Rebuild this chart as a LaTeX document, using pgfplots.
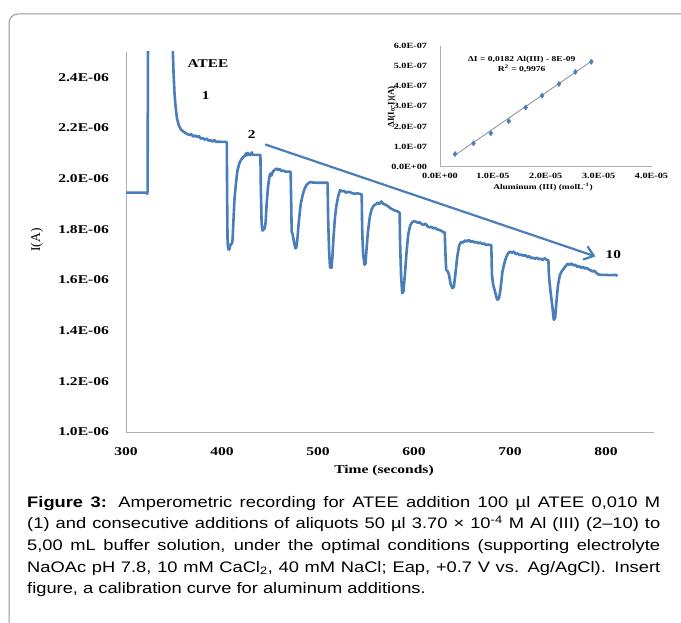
\documentclass[border=0pt]{standalone}
\usepackage{fontspec}
\setmainfont{Liberation Serif}
\newfontfamily\capfont{Liberation Sans}
\usepackage{pgfplots}
\pgfplotsset{compat=1.18}
\usetikzlibrary{arrows.meta}
\definecolor{trace}{RGB}{74,126,187}
\definecolor{axgray}{RGB}{175,175,175}
\definecolor{bordergray}{RGB}{150,150,150}
\definecolor{trendgray}{RGB}{140,140,140}
\begin{document}
\begin{tikzpicture}[x=1bp,y=1bp]
\useasboundingbox (0,0) rectangle (681,623);
\fill[white] (0,0) rectangle (681,623);
\draw[bordergray, line width=1bp, rounded corners=9bp] (681,609) -- (9,609) -- (9,0);

\begin{axis}[
  at={(126bp,191bp)}, anchor=south west,
  scale only axis, width=528bp, height=380bp,
  xmin=300, xmax=850, ymin=1.0, ymax=2.5,
  axis x line=bottom, axis y line=left,
  axis line style={axgray, line width=0.9bp, -},
  xtick={300,400,500,600,700,800},
  xticklabels={300,400,500,600,700,800},
  ytick={1.0,1.2,1.4,1.6,1.8,2.0,2.2,2.4},
  yticklabels={1.0E-06,1.2E-06,1.4E-06,1.6E-06,1.8E-06,2.0E-06,2.2E-06,2.4E-06},
  major tick length=0pt,
  tick label style={font=\fontsize{12}{14}\selectfont\bfseries, xscale=1.3, inner sep=0pt},
  xticklabel style={anchor=north, yshift=-15bp},
  yticklabel style={anchor=east, xshift=-13bp},
  clip=true,
]
\addplot[trace, line width=2.6bp, line join=round] coordinates {
(300,1.945) (310,1.945) (320,1.945) (321.5,1.945) (322,1.94) (322.5,1.95) (323,2.7)
(348,2.7) (348.8,2.5) (349.5,2.42) (350.5,2.34) (351.5,2.29) (353,2.24) (355,2.21) (357,2.195)
(360,2.185) (363,2.178) (366,2.172) (368,2.176) (370,2.166) (372,2.17) (374,2.165) (376,2.168)
(378,2.158) (380,2.16) (382,2.154) (384,2.158) (386,2.15) (388,2.152) (390,2.146) (392,2.152)
(394,2.145) (397,2.146) (400,2.145) (404.5,2.145)
(405,2.14) (405.4,1.9) (405.8,1.75) (406.5,1.722) (407.5,1.72) (408.5,1.735) (409.5,1.742)
(410.5,1.745) (411,1.76) (412,1.84) (413,1.92) (414.5,1.98) (416,2.03) (418,2.06) (420,2.075)
(422,2.085) (424,2.09) (425,2.1) (426,2.092) (427,2.102) (428,2.093) (430,2.095) (431,2.104)
(432,2.094) (435,2.094) (438,2.094) (440,2.094)
(440.5,1.95) (441.3,1.82) (442.2,1.795) (443.5,1.8) (444.5,1.805) (445.5,1.83) (446.5,1.9)
(448,1.97) (449.5,2.01) (450.5,2.02) (451.5,2.012) (453,2.028) (455,2.035) (457,2.04)
(458.5,2.034) (460,2.038) (462,2.03) (464,2.032) (466,2.028) (468,2.028) (471.5,2.027)
(472,1.92) (472.6,1.79) (473.5,1.782) (475,1.75) (476.5,1.725) (477.5,1.73) (478.5,1.76)
(480,1.83) (482,1.9) (484,1.935) (486,1.96) (488,1.975) (490,1.982) (492,1.987) (494,1.985)
(498,1.984) (502,1.984) (506,1.984) (510,1.984)
(510.5,1.85) (511.5,1.72) (512.5,1.65) (514,1.648) (515,1.69) (516,1.76) (517.5,1.84)
(519,1.89) (521,1.93) (523,1.955) (525,1.95) (527,1.952) (529,1.945) (532,1.948) (535,1.944)
(538,1.94) (541,1.942) (545.5,1.938)
(546,1.80) (547,1.70) (548.5,1.66) (549.5,1.665) (550.5,1.72) (552,1.79) (554,1.85) (556,1.88)
(558,1.893) (560,1.898) (562,1.905) (564,1.9) (566,1.91) (568,1.9) (570,1.898) (572,1.893)
(574,1.888) (576,1.882) (578,1.878) (580,1.874) (582,1.872) (584,1.868) (585,1.866)
(585.5,1.75) (586.5,1.62) (587.7,1.548) (589,1.555) (590.5,1.62) (592,1.7) (594,1.78)
(596,1.815) (598,1.828) (600,1.832) (602,1.83) (604,1.826) (606,1.828) (608,1.82) (610,1.818)
(612,1.822) (614,1.812) (616,1.808) (618,1.81) (620,1.804) (622,1.806) (624,1.8) (626,1.798)
(628,1.795) (630,1.79) (632,1.788)
(632.8,1.70) (633.5,1.64) (635,1.635) (636.5,1.62) (638,1.585) (640,1.568) (641.5,1.572)
(643,1.62) (645,1.69) (647,1.735) (649,1.75) (651,1.748) (653,1.756) (655,1.752) (657,1.758)
(659,1.75) (661,1.754) (663,1.748) (665,1.75) (667,1.745) (669,1.748) (671,1.742) (673,1.744)
(675,1.738) (677,1.74) (680.5,1.737)
(681.2,1.62) (682.5,1.58) (684,1.56) (686,1.53) (687,1.522) (688.5,1.528) (690,1.56) (692,1.63)
(694,1.665) (696,1.69) (698,1.705) (700,1.712) (702,1.708) (704,1.712) (706,1.702) (708,1.705)
(710,1.698) (712,1.7) (714,1.696) (716,1.698) (718,1.69) (720,1.694) (722,1.686) (724,1.688)
(726,1.684) (728,1.688) (730,1.682) (732,1.684) (734,1.678) (736,1.686) (738,1.68) (740,1.678)
(740.5,1.62) (742,1.56) (744,1.5) (745.6,1.443) (747,1.45) (748.5,1.52) (750,1.58) (752,1.62)
(754,1.635) (756,1.645) (758,1.655) (760,1.664) (762,1.66) (764,1.665) (766,1.658) (768,1.66)
(770,1.652) (772,1.655) (774,1.648) (776,1.652) (778,1.645) (780,1.648) (782,1.642) (784,1.638)
(786,1.634) (788,1.636) (790,1.628) (792,1.622) (795,1.62) (800,1.62) (805,1.619) (810,1.62)
(812,1.616)
};
\addplot[trace, line width=2.2bp, -{Straight Barb[length=9bp, width=14bp]}] coordinates {(445,2.135) (789,1.693)};
\end{axis}

\begin{axis}[
  at={(440bp,456.3bp)}, anchor=south west,
  scale only axis, width=211.5bp, height=120.7bp,
  xmin=0, xmax=4, ymin=0, ymax=6,
  axis x line=bottom, axis y line=left,
  axis line style={axgray, line width=0.8bp, -},
  xtick={0,1,2,3,4},
  xticklabels={0.0E+00,1.0E-05,2.0E-05,3.0E-05,4.0E-05},
  ytick={0,1,2,3,4,5,6},
  yticklabels={0.0E+00,1.0E-07,2.0E-07,3.0E-07,4.0E-07,5.0E-07,6.0E-07},
  major tick length=0pt,
  tick label style={font=\fontsize{8}{9}\selectfont\bfseries, xscale=1.28, inner sep=0pt},
  xticklabel style={anchor=north, yshift=-6.5bp},
  yticklabel style={anchor=east, xshift=-10bp},
]
\addplot[trendgray, line width=0.8bp] coordinates {(0.26,0.53) (2.90,5.31)};
\addplot[only marks, mark=diamond*, mark size=2.6bp, mark options={fill=trace, draw=trace}] coordinates {
(0.285,0.63) (0.633,1.16) (0.962,1.66) (1.30,2.26) (1.62,2.94) (1.93,3.53) (2.25,4.11) (2.56,4.71) (2.86,5.21)
};
\end{axis}

% labels
\node[font=\fontsize{13.5}{15}\selectfont, rotate=90] at (37,383) {I(A)};
\node[font=\fontsize{12}{14}\selectfont\bfseries, xscale=1.3] at (384,152) {Time (seconds)};
\node[font=\fontsize{12}{14}\selectfont\bfseries, xscale=1.28] at (208,559) {ATEE};
\node[font=\fontsize{12}{14}\selectfont\bfseries, xscale=1.28] at (205.7,527) {1};
\node[font=\fontsize{12}{14}\selectfont\bfseries, xscale=1.28] at (251.7,488) {2};
\node[font=\fontsize{12}{14}\selectfont\bfseries, xscale=1.28] at (613.3,368) {10};

\node[font=\fontsize{7.5}{9}\selectfont\bfseries, xscale=1.28] at (521.7,563) {ΔI = 0,0182 Al(III) - 8E-09};
\node[font=\fontsize{7.5}{9}\selectfont\bfseries, xscale=1.28] at (521.7,553.7) {R\textsuperscript{2} = 0,9976};
\node[font=\fontsize{9}{10}\selectfont\bfseries, rotate=90] at (391.7,516) {ΔI(I\textsubscript{0}-I)(A)};
\node[font=\fontsize{7.4}{9}\selectfont\bfseries, xscale=1.28] at (543,436) {Aluminum (III) (molL\textsuperscript{-1})};

% caption
\node[anchor=north west, inner sep=0pt, xscale=1.2, text width=527.5bp, align=justify,
      font=\capfont\fontsize{15.3}{21.7}\selectfont] at (27,127)
{\noindent\textbf{Figure 3:} Amperometric recording for ATEE addition 100 µl ATEE 0,010 M\linebreak
(1) and consecutive additions of aliquots 50 µl 3.70 × 10\textsuperscript{-4} M Al (III) (2–10) to\linebreak
5,00 mL buffer solution, under the optimal conditions (supporting electrolyte\linebreak
NaOAc pH 7.8, 10 mM CaCl\textsubscript{2}, 40 mM NaCl; Eap, +0.7 V vs. Ag/AgCl). Insert\linebreak
figure, a calibration curve for aluminum additions.};
\end{tikzpicture}
\end{document}
